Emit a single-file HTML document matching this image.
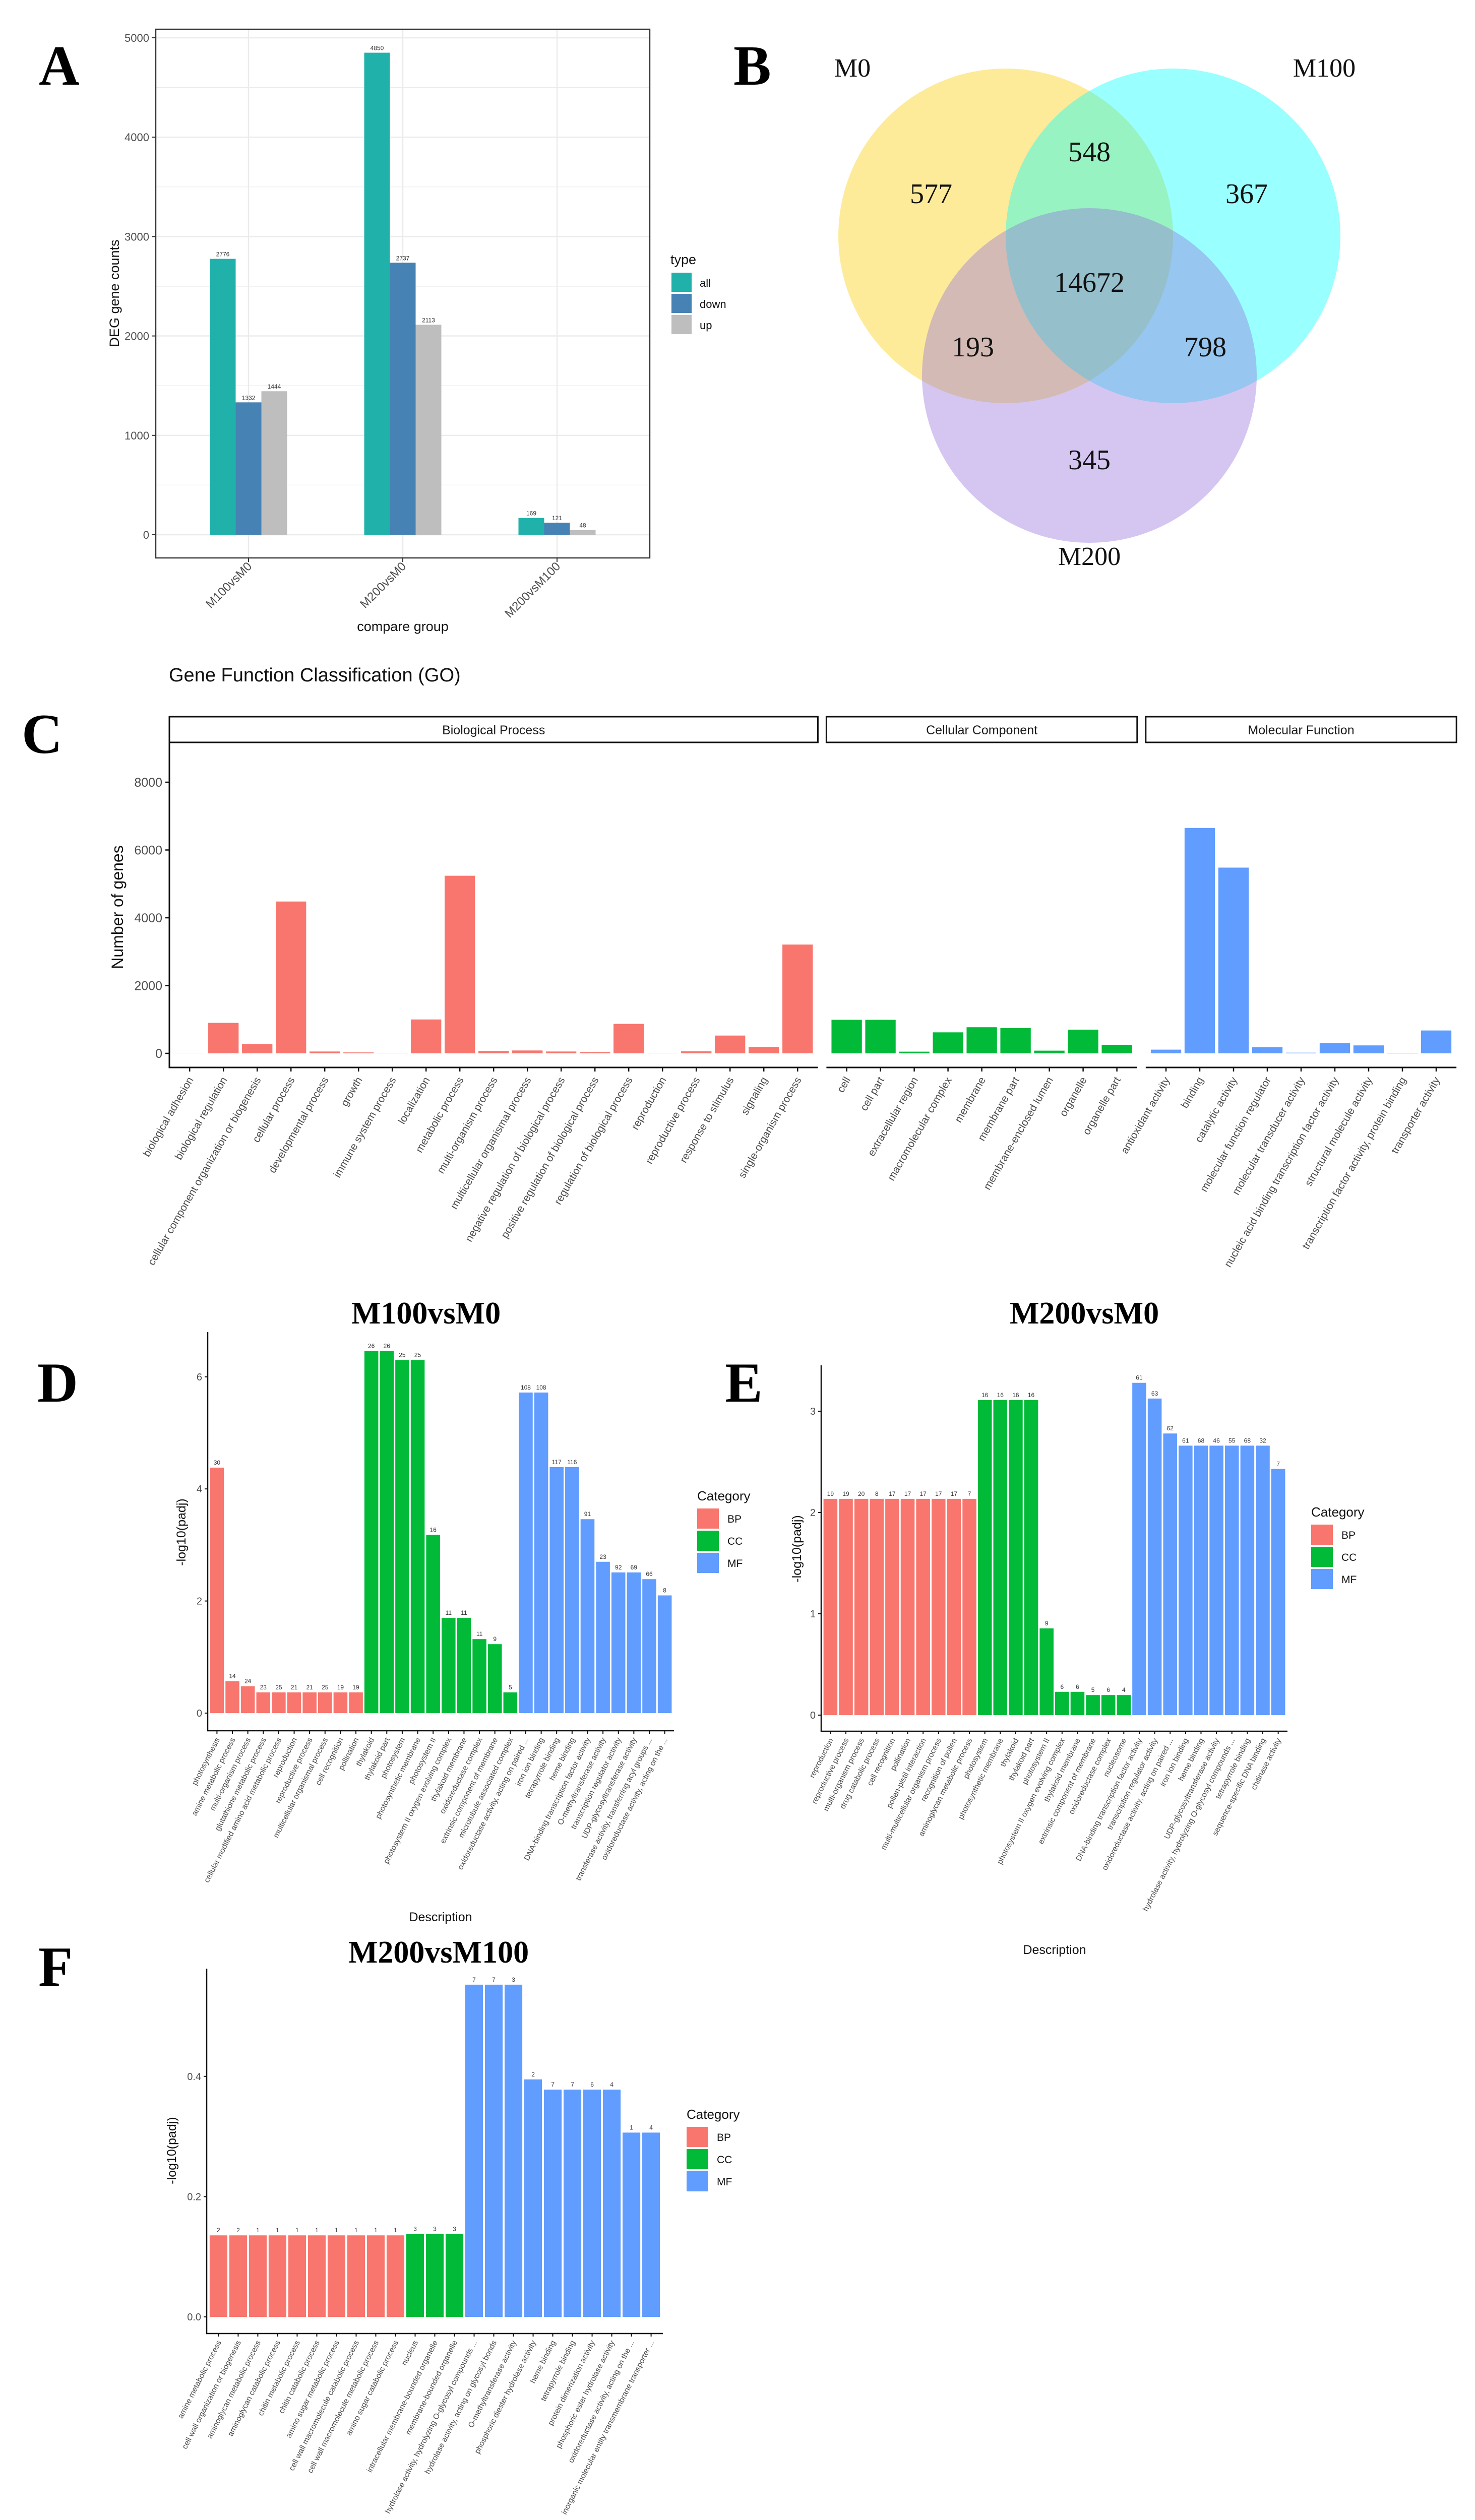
<!DOCTYPE html>
<html><head><meta charset="utf-8"><title>DEG figure</title>
<style>
html,body{margin:0;padding:0;background:#fff;width:2926px;height:5133px;overflow:hidden;}
svg{display:block;}
.s{font-family:"Liberation Sans",sans-serif;}
.r{font-family:"Liberation Serif",serif;}
</style></head>
<body>
<svg id="fig" width="2926" height="5133" viewBox="0 0 2926 5133" xmlns="http://www.w3.org/2000/svg" overflow="hidden">
<rect width="2926" height="5133" fill="#fff"/>
<text class="r" x="77" y="168" font-size="112" font-weight="bold">A</text>
<text class="r" x="1455" y="168" font-size="112" font-weight="bold">B</text>
<text class="r" x="43" y="1494" font-size="112" font-weight="bold">C</text>
<text class="r" x="74" y="2781" font-size="112" font-weight="bold">D</text>
<text class="r" x="1438" y="2781" font-size="112" font-weight="bold">E</text>
<text class="r" x="76" y="3940" font-size="112" font-weight="bold">F</text>

<g>
<circle cx="1995" cy="468" r="332" fill="#fcd735" fill-opacity="0.5"/>
<circle cx="2327" cy="468" r="332" fill="#00ffff" fill-opacity="0.4"/>
<circle cx="2161" cy="745" r="332" fill="#9370db" fill-opacity="0.4"/>
<g class="r" font-size="52" text-anchor="middle" fill="#111">
<text x="1691" y="152">M0</text>
<text x="2627" y="152">M100</text>
<text x="2161" y="1121">M200</text>
<text x="1847" y="403" font-size="56">577</text>
<text x="2161" y="320" font-size="56">548</text>
<text x="2473" y="403" font-size="56">367</text>
<text x="2161" y="579" font-size="56">14672</text>
<text x="1930" y="707" font-size="56">193</text>
<text x="2391" y="707" font-size="56">798</text>
<text x="2161" y="931" font-size="56">345</text>
</g>
</g>

<text class="s" x="335" y="1352" font-size="38" fill="#111">Gene Function Classification (GO)</text>
<text class="r" x="845" y="2626" font-size="62" font-weight="bold" text-anchor="middle">M100vsM0</text>
<text class="r" x="2151" y="2626" font-size="62" font-weight="bold" text-anchor="middle">M200vsM0</text>
<text class="r" x="870" y="3894" font-size="62" font-weight="bold" text-anchor="middle">M200vsM100</text>
<g id="charts"></g>
</svg>
<script>
// ---------- Panel A data ----------
const aGroups = ["M100vsM0", "M200vsM0", "M200vsM100"];
const aTypes = ["all", "down", "up"];
const aAll = [2776, 4850, 169];
const aDown = [1332, 2737, 121];
const aUp = [1444, 2113, 48];
const aTicks = [0, 1000, 2000, 3000, 4000, 5000];

// ---------- Panel C data ----------
const goBPNames = ["biological adhesion","biological regulation","cellular component organization or biogenesis","cellular process","developmental process","growth","immune system process","localization","metabolic process","multi-organism process","multicellular organismal process","negative regulation of biological process","positive regulation of biological process","regulation of biological process","reproduction","reproductive process","response to stimulus","signaling","single-organism process"];
const goBPValues = [3, 900, 275, 4480, 55, 28, 5, 1000, 5240, 70, 85, 55, 40, 870, 5, 60, 525, 190, 3210];
const goCCNames = ["cell","cell part","extracellular region","macromolecular complex","membrane","membrane part","membrane-enclosed lumen","organelle","organelle part"];
const goCCValues = [990, 990, 50, 620, 770, 745, 80, 700, 250];
const goMFNames = ["antioxidant activity","binding","catalytic activity","molecular function regulator","molecular transducer activity","nucleic acid binding transcription factor activity","structural molecule activity","transcription factor activity, protein binding","transporter activity"];
const goMFValues = [110, 6650, 5480, 180, 20, 300, 235, 15, 675];
const goTicks = [0, 2000, 4000, 6000, 8000];

// ---------- Panel D data ----------
const dNames = ["photosynthesis","amine metabolic process","multi-organism process","glutathione metabolic process","cellular modified amino acid metabolic process","reproduction","reproductive process","multicellular organismal process","cell recognition","pollination","thylakoid","thylakoid part","photosystem","photosynthetic membrane","photosystem II","photosystem II oxygen evolving complex","thylakoid membrane","oxidoreductase complex","extrinsic component of membrane","microtubule associated complex","oxidoreductase activity, acting on paired ...","iron ion binding","tetrapyrrole binding","heme binding","DNA-binding transcription factor activity","O-methyltransferase activity","transcription regulator activity","UDP-glycosyltransferase activity","transferase activity, transferring acyl groups ...","oxidoreductase activity, acting on the ..."];
const dCats = ["BP","BP","BP","BP","BP","BP","BP","BP","BP","BP","CC","CC","CC","CC","CC","CC","CC","CC","CC","CC","MF","MF","MF","MF","MF","MF","MF","MF","MF","MF"];
const dValues = [4.38,0.57,0.48,0.37,0.37,0.37,0.37,0.37,0.37,0.37,6.46,6.46,6.30,6.30,3.18,1.70,1.70,1.32,1.23,0.37,5.72,5.72,4.39,4.39,3.46,2.70,2.51,2.51,2.39,2.10];
const dCounts = [30,14,24,23,25,21,21,25,19,19,26,26,25,25,16,11,11,11,9,5,108,108,117,116,91,23,92,69,66,8];
const dTicks = [0, 2, 4, 6];

// ---------- Panel E data ----------
const eNames = ["reproduction","reproductive process","multi-organism process","drug catabolic process","cell recognition","pollination","pollen-pistil interaction","multi-multicellular organism process","recognition of pollen","aminoglycan metabolic process","photosystem","photosynthetic membrane","thylakoid","thylakoid part","photosystem II","photosystem II oxygen evolving complex","thylakoid membrane","extrinsic component of membrane","oxidoreductase complex","nucleosome","DNA-binding transcription factor activity","transcription regulator activity","oxidoreductase activity, acting on paired ...","iron ion binding","heme binding","UDP-glycosyltransferase activity","hydrolase activity, hydrolyzing O-glycosyl compounds ...","tetrapyrrole binding","sequence-specific DNA binding","chitinase activity"];
const eCats = ["BP","BP","BP","BP","BP","BP","BP","BP","BP","BP","CC","CC","CC","CC","CC","CC","CC","CC","CC","CC","MF","MF","MF","MF","MF","MF","MF","MF","MF","MF"];
const eValues = [2.135,2.135,2.135,2.135,2.135,2.135,2.135,2.135,2.135,2.135,3.11,3.11,3.11,3.11,0.856,0.23,0.23,0.198,0.198,0.198,3.28,3.125,2.78,2.66,2.66,2.66,2.66,2.66,2.66,2.43];
const eCounts = [19,19,20,8,17,17,17,17,17,7,16,16,16,16,9,6,6,5,6,4,61,63,62,61,68,46,55,68,32,7];
const eTicks = [0, 1, 2, 3];

// ---------- Panel F data ----------
const fNames = ["amine metabolic process","cell wall organization or biogenesis","aminoglycan metabolic process","aminoglycan catabolic process","chitin metabolic process","chitin catabolic process","amino sugar metabolic process","cell wall macromolecule catabolic process","cell wall macromolecule metabolic process","amino sugar catabolic process","nucleus","intracellular membrane-bounded organelle","membrane-bounded organelle","hydrolase activity, hydrolyzing O-glycosyl compounds ...","hydrolase activity, acting on glycosyl bonds","O-methyltransferase activity","phosphoric diester hydrolase activity","heme binding","tetrapyrrole binding","protein dimerization activity","phosphoric ester hydrolase activity","oxidoreductase activity, acting on the ...","inorganic molecular entity transmembrane transporter ..."];
const fCats = ["BP","BP","BP","BP","BP","BP","BP","BP","BP","BP","CC","CC","CC","MF","MF","MF","MF","MF","MF","MF","MF","MF","MF"];
const fValues = [0.1356,0.1356,0.1356,0.1356,0.1356,0.1356,0.1356,0.1356,0.1356,0.1356,0.138,0.138,0.138,0.5525,0.5525,0.5525,0.395,0.378,0.378,0.378,0.378,0.3065,0.3065];
const fCounts = [2,2,1,1,1,1,1,1,1,1,3,3,3,7,7,3,2,7,7,6,4,1,4];
const fTicks = [0, 0.2, 0.4];
const fTickLabels = ["0.0", "0.2", "0.4"];

const NS = "http://www.w3.org/2000/svg";
const root = document.getElementById("charts");
const catColor = {BP: "#F8766D", CC: "#00BA38", MF: "#619CFF"};
function mk(tag, attrs, parent) {
  const el = document.createElementNS(NS, tag);
  for (const k in attrs) el.setAttribute(k, attrs[k]);
  (parent || root).appendChild(el);
  return el;
}
function txt(s, attrs, parent) {
  const el = mk("text", attrs, parent);
  el.textContent = s;
  return el;
}

// ================= Panel A =================
(function () {
  const g = mk("g", {});
  
  
  const L = 309, R = 1289, T = 58, B = 1107;
  const yA = v => 1061 - v * 0.1972;
  const xA = i => 493 + i * 306;
  const bw = 51;
  for (let v = 0; v <= 5000; v += 500) {
    const ln = mk("line", {x1: L, x2: R, y1: yA(v), y2: yA(v), stroke: "#ebebeb", "stroke-width": v % 1000 ? 1.2 : 2.4}, g);
    
    
  }
  aGroups.forEach((c, i) => {
    const ln = mk("line", {x1: xA(i), x2: xA(i), y1: T, y2: B, stroke: "#ebebeb", "stroke-width": 2.4}, g);
    
    
  });
  const series = [aAll, aDown, aUp];
  const cols = ["#20B2AA", "#4682B4", "#BEBEBE"];
  aGroups.forEach((c, i) => {
    series.forEach((s, j) => {
      const cx = xA(i) + (j - 1) * bw;
      const r = mk("rect", {x: cx - bw / 2, y: yA(s[i]), width: bw, height: yA(0) - yA(s[i]), fill: cols[j]}, g);
      
      
      const t = txt(String(s[i]), {x: cx, y: yA(s[i]) - 5, "font-size": 12, "text-anchor": "middle", fill: "#333", class: "s"}, g);
      
      
    });
    const tk = mk("line", {x1: xA(i), x2: xA(i), y1: B, y2: B + 8, stroke: "#333", "stroke-width": 2}, g);
    
    
    const lb = txt(c, {transform: `translate(${xA(i) + 8},${B + 18}) rotate(-45)`, "font-size": 24, "text-anchor": "end", fill: "#4d4d4d", class: "s"}, g);
    
    
  });
  const border = mk("rect", {x: L, y: T, width: R - L, height: B - T, fill: "none", stroke: "#333", "stroke-width": 2.4}, g);
  
  
  aTicks.forEach(v => {
    const tk = mk("line", {x1: L - 8, x2: L, y1: yA(v), y2: yA(v), stroke: "#333", "stroke-width": 2}, g);
    
    
    const lb = txt(String(v), {x: L - 13, y: yA(v) + 8, "font-size": 22, "text-anchor": "end", fill: "#4d4d4d", class: "s"}, g);
    
    
  });
  const yt = txt("DEG gene counts", {transform: "translate(236,582) rotate(-90)", "font-size": 27, "text-anchor": "middle", fill: "#111", class: "s"}, g);
  
  
  const xt = txt("compare group", {x: 799, y: 1252, "font-size": 27, "text-anchor": "middle", fill: "#111", class: "s"}, g);
  
  
  const lt = txt("type", {x: 1330, y: 524, "font-size": 27, fill: "#111", class: "s"}, g);
  
  
  aTypes.forEach((t, j) => {
    const k = mk("rect", {x: 1332, y: 541 + j * 42, width: 40, height: 38, fill: cols[j]}, g);
    
    
    const l = txt(t, {x: 1388, y: 569 + j * 42, "font-size": 22, fill: "#111", class: "s"}, g);
    
    
  });
})();

// ================= Panel C =================
(function () {
  const g = mk("g", {});
  
  
  const unit = 67, gap = 17, stripT = 1422, stripB = 1473, axisB = 2118;
  const yC = v => 2090 - v * 0.06725;
  const facets = [
    {name: "Biological Process", names: goBPNames, vals: goBPValues, col: catColor.BP},
    {name: "Cellular Component", names: goCCNames, vals: goCCValues, col: catColor.CC},
    {name: "Molecular Function", names: goMFNames, vals: goMFValues, col: catColor.MF}
  ];
  let start = 336;
  facets.forEach((f, fi) => {
    const w = (f.names.length + 0.2) * unit;
    const xC = i => start + (0.6 + i) * unit;
    const sr = mk("rect", {x: start, y: stripT, width: w, height: stripB - stripT, fill: "#fff", stroke: "#111", "stroke-width": 3}, g);
    
    
    const st = txt(f.name, {x: start + w / 2, y: stripT + 35, "font-size": 25, "text-anchor": "middle", fill: "#1a1a1a", class: "s"}, g);
    
    
    f.vals.forEach((v, i) => {
      const r = mk("rect", {x: xC(i) - 0.45 * unit, y: yC(v), width: 0.9 * unit, height: yC(0) - yC(v), fill: f.col}, g);
      
      
      const tk = mk("line", {x1: xC(i), x2: xC(i), y1: axisB, y2: axisB + 8, stroke: "#111", "stroke-width": 2.5}, g);
      
      
      const lb = txt(f.names[i], {transform: `translate(${xC(i) + 8},${axisB + 24}) rotate(-60)`, "font-size": 21, "text-anchor": "end", fill: "#4d4d4d", class: "s"}, g);
      
      
    });
    const ax = mk("line", {x1: start, x2: start + w, y1: axisB, y2: axisB, stroke: "#111", "stroke-width": 3}, g);
    
    
    start += w + gap;
  });
  const ay = mk("line", {x1: 336, x2: 336, y1: stripB, y2: axisB + 1.5, stroke: "#111", "stroke-width": 3}, g);
  
  
  goTicks.forEach(v => {
    const tk = mk("line", {x1: 328, x2: 336, y1: yC(v), y2: yC(v), stroke: "#111", "stroke-width": 2.5}, g);
    
    
    const lb = txt(String(v), {x: 322, y: yC(v) + 9, "font-size": 25, "text-anchor": "end", fill: "#4d4d4d", class: "s"}, g);
    
    
  });
  const yt = txt("Number of genes", {transform: "translate(244,1800) rotate(-90)", "font-size": 32, "text-anchor": "middle", fill: "#111", class: "s"}, g);
  
  
})();

// ================= Enrichment panels D/E/F =================
function enrich(cfg) {
  const g = mk("g", {});
  
  
  const n = cfg.names.length;
  const step = (cfg.right - cfg.left) / (n + 0.2);
  const xE = i => cfg.left + (0.6 + i) * step;
  const yE = v => cfg.zero - v * cfg.unit;
  cfg.values.forEach((v, i) => {
    const r = mk("rect", {x: xE(i) - 0.45 * step, y: yE(v), width: 0.9 * step, height: yE(0) - yE(v), fill: catColor[cfg.cats[i]]}, g);
    
    
    const t = txt(String(cfg.counts[i]), {x: xE(i), y: yE(v) - 6, "font-size": 12, "text-anchor": "middle", fill: "#333", class: "s"}, g);
    
    
    const tk = mk("line", {x1: xE(i), x2: xE(i), y1: cfg.bottom, y2: cfg.bottom + 6, stroke: "#111", "stroke-width": 2}, g);
    
    
    const lb = txt(cfg.names[i], {transform: `translate(${xE(i) + 6},${cfg.bottom + 17}) rotate(-63)`, "font-size": 15.5, "text-anchor": "end", fill: "#4d4d4d", class: "s"}, g);
    
    
  });
  const ax = mk("path", {d: `M${cfg.left},${cfg.top} V${cfg.bottom} H${cfg.right}`, fill: "none", stroke: "#111", "stroke-width": 2.5}, g);
  
  
  cfg.ticks.forEach((v, k) => {
    const tk = mk("line", {x1: cfg.left - 6, x2: cfg.left, y1: yE(v), y2: yE(v), stroke: "#111", "stroke-width": 2}, g);
    
    
    const lb = txt(cfg.tickLabels ? cfg.tickLabels[k] : String(v), {x: cfg.left - 11, y: yE(v) + 7, "font-size": 20, "text-anchor": "end", fill: "#4d4d4d", class: "s"}, g);
    
    
  });
  const yt = txt("-log10(padj)", {transform: `translate(${cfg.ytX},${cfg.ytY}) rotate(-90)`, "font-size": 25, "text-anchor": "middle", fill: "#111", class: "s"}, g);
  
  
  const xt = txt("Description", {x: cfg.xtX, y: cfg.xtY, "font-size": 25, "text-anchor": "middle", fill: "#111", class: "s"}, g);
  
  
  const lt = txt("Category", {x: cfg.lgX, y: cfg.lgY, "font-size": 26, fill: "#111", class: "s"}, g);
  
  
  ["BP", "CC", "MF"].forEach((c, j) => {
    const k = mk("rect", {x: cfg.lgX, y: cfg.lgY + 16 + j * 44, width: 43, height: 40, fill: catColor[c]}, g);
    
    
    const l = txt(c, {x: cfg.lgX + 60, y: cfg.lgY + 44 + j * 44, "font-size": 21, fill: "#111", class: "s"}, g);
    
    
  });
}
enrich({id: "enrichment-m100vsm0", names: dNames, cats: dCats, values: dValues, counts: dCounts, ticks: dTicks,
  left: 412, right: 1337, top: 2643, bottom: 3434, zero: 3399, unit: 111.2,
  ytX: 368, ytY: 3040, xtX: 874, xtY: 3812, lgX: 1383, lgY: 2977});
enrich({id: "enrichment-m200vsm0", names: eNames, cats: eCats, values: eValues, counts: eCounts, ticks: eTicks,
  left: 1629, right: 2554, top: 2709, bottom: 3435, zero: 3403, unit: 201,
  ytX: 1589, ytY: 3073, xtX: 2092, xtY: 3877, lgX: 2601, lgY: 3009});
enrich({id: "enrichment-m200vsm100", names: fNames, cats: fCats, values: fValues, counts: fCounts, ticks: fTicks, tickLabels: fTickLabels,
  left: 410, right: 1315, top: 3906, bottom: 4630, zero: 4597, unit: 1193,
  ytX: 349, ytY: 4267, xtX: 863, xtY: 5074, lgX: 1362, lgY: 4204});
</script>
</body></html>
